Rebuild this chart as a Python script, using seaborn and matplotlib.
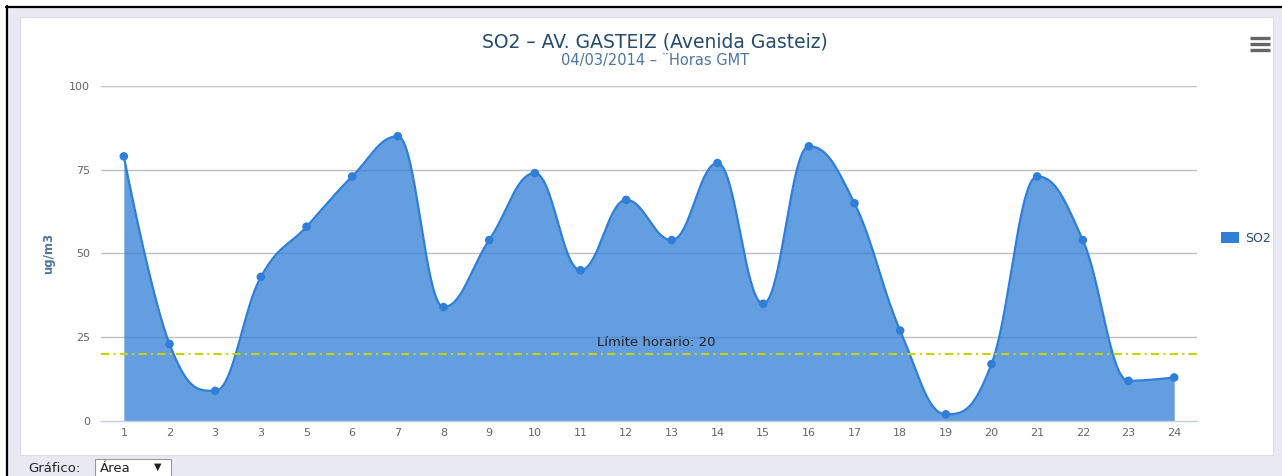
import numpy as np
import pandas as pd
import matplotlib
matplotlib.use("Agg")
import matplotlib.pyplot as plt
import seaborn as sns
from matplotlib.patches import Rectangle, Patch
from matplotlib.lines import Line2D

# ---------------- data ----------------
hour_labels = ["1", "2", "3", "3", "5", "6", "7", "8", "9", "10", "11", "12",
               "13", "14", "15", "16", "17", "18", "19", "20", "21", "22", "23", "24"]
so2_values = [79, 23, 9, 43, 58, 73, 85, 34, 54, 74, 45, 66,
              54, 77, 35, 82, 65, 27, 2, 17, 73, 54, 12, 13]
y_ticks = [0, 25, 50, 75, 100]
limit_value = 20
title_text = "SO2 – AV. GASTEIZ (Avenida Gasteiz)"
subtitle_text = "04/03/2014 – ¨Horas GMT"
series_name = "SO2"
y_title = "ug/m3"
limit_label = "Límite horario: 20"

# ---------------- style ----------------
sns.set_theme(style="white")
plt.rcParams["font.family"] = ["DejaVu Sans"]

W, H = 1282, 476
fig = plt.figure(figsize=(W / 100, H / 100), dpi=100)
fig.patch.set_facecolor("#ffffff")

def fx(px):
    return px / W

def fy(py):
    return 1 - py / H

# page background and panel
fig.add_artist(Rectangle((fx(8), 0), fx(W - 8), fy(8), transform=fig.transFigure,
                         facecolor="#e9e9f3", edgecolor="none", zorder=-10))
fig.add_artist(Rectangle((fx(20), fy(455)), fx(1273 - 20), (455 - 17) / H,
                         transform=fig.transFigure, facecolor="white",
                         edgecolor="#dcdce6", lw=0.8, zorder=-9))
# black frame edges (top and left)
fig.add_artist(Line2D([fx(6), 1], [fy(7), fy(7)], transform=fig.transFigure,
                      color="black", lw=1.6, zorder=-8))
fig.add_artist(Line2D([fx(7), fx(7)], [0, fy(6)], transform=fig.transFigure,
                      color="black", lw=1.6, zorder=-8))

# ---------------- axes ----------------
left, right, top, bottom = 101, 1197, 86, 421
ax = fig.add_axes([fx(left), fy(bottom), (right - left) / W, (bottom - top) / H])
ax.set_facecolor("none")

x = np.arange(len(so2_values), dtype=float)
y = np.array(so2_values, dtype=float)

# Highcharts-style spline control points
def spline_path(xs, ys, smoothing=1.5, n=40):
    denom = smoothing + 1
    nseg = len(xs) - 1
    rc = [(xs[i], ys[i]) for i in range(len(xs))]
    lc = [(xs[i], ys[i]) for i in range(len(xs))]
    for i in range(1, len(xs) - 1):
        px, py = xs[i], ys[i]
        lx, ly = xs[i - 1], ys[i - 1]
        nx, ny = xs[i + 1], ys[i + 1]
        lcx = (smoothing * px + lx) / denom
        lcy = (smoothing * py + ly) / denom
        rcx = (smoothing * px + nx) / denom
        rcy = (smoothing * py + ny) / denom
        corr = ((rcy - lcy) * (rcx - px)) / (rcx - lcx) + py - rcy
        lcy += corr
        rcy += corr
        if lcy > ly and lcy > py:
            lcy = max(ly, py); rcy = 2 * py - lcy
        elif lcy < ly and lcy < py:
            lcy = min(ly, py); rcy = 2 * py - lcy
        if rcy > ny and rcy > py:
            rcy = max(ny, py); lcy = 2 * py - rcy
        elif rcy < ny and rcy < py:
            rcy = min(ny, py); lcy = 2 * py - rcy
        lc[i] = (lcx, lcy)
        rc[i] = (rcx, rcy)
    t = np.linspace(0, 1, n)
    XX, YY = [], []
    for i in range(nseg):
        p0 = np.array([xs[i], ys[i]])
        p1 = np.array(rc[i])
        p2 = np.array(lc[i + 1])
        p3 = np.array([xs[i + 1], ys[i + 1]])
        pts = ((1 - t) ** 3)[:, None] * p0 + (3 * (1 - t) ** 2 * t)[:, None] * p1 \
            + (3 * (1 - t) * t ** 2)[:, None] * p2 + (t ** 3)[:, None] * p3
        if i > 0:
            pts = pts[1:]
        XX.append(pts[:, 0]); YY.append(pts[:, 1])
    return np.concatenate(XX), np.concatenate(YY)

sx, sy = spline_path(x, y)
line_color = "#2f7ed8"

ax.fill_between(sx, 0, sy, color=line_color, alpha=0.75, lw=0, zorder=2)
smooth_df = pd.DataFrame({"x": sx, "y": sy})
sns.lineplot(data=smooth_df, x="x", y="y", ax=ax, color=line_color, lw=1.6,
             zorder=3, sort=False, estimator=None)
pts_df = pd.DataFrame({"x": x, "y": y})
sns.scatterplot(data=pts_df, x="x", y="y", ax=ax, color=line_color, s=38,
                edgecolor="none", zorder=4, legend=False)

# grid lines
for v in y_ticks[1:]:
    ax.axhline(v, color="#c0c0c0", lw=1.0, zorder=1)

# plot line (limit)
ax.axhline(limit_value, color="#c8d400", lw=1.5, ls=(0, (4, 2, 1, 2)), zorder=5)
ax.text((len(x) - 1) / 2 + 0.15, limit_value + 1.6, limit_label, ha="center",
        va="bottom", fontsize=9.5, color="#222222", zorder=6)

ax.set_xlim(-0.5, len(x) - 0.5)
ax.set_ylim(0, 100)
ax.set_yticks(y_ticks)
ax.set_yticklabels([str(v) for v in y_ticks])
ax.set_xticks(x)
ax.set_xticklabels(hour_labels)
ax.set_xticks(np.arange(-0.5, len(x) + 0.5, 1), minor=True)
ax.tick_params(axis="x", which="major", length=0, pad=5, labelsize=8, labelcolor="#666666")
ax.tick_params(axis="x", which="minor", length=5, width=1, color="#c0d0e0", direction="out")
ax.tick_params(axis="y", length=0, pad=8, labelsize=8, labelcolor="#666666")
for s in ["top", "right", "left"]:
    ax.spines[s].set_visible(False)
ax.spines["bottom"].set_color("#c0d0e0")
ax.spines["bottom"].set_linewidth(1.0)
ax.set_xlabel("")
ax.set_ylabel(y_title, fontsize=8.5, fontweight="bold", color="#4d759e", labelpad=10)

# titles
fig.text(fx(655), fy(42), title_text, ha="center", va="center", fontsize=13.5, color="#274b6d")
fig.text(fx(655), fy(60), subtitle_text, ha="center", va="center", fontsize=10.5, color="#4d759e")

# legend
handle = Patch(facecolor=line_color, edgecolor="none", label=series_name)
fig.legend(handles=[handle], loc="center left", bbox_to_anchor=(fx(1210), fy(238)),
           frameon=False, fontsize=9, handlelength=1.4, handleheight=1.0,
           handletextpad=0.5, labelcolor="#274b6d")

# menu icon
for py in (38, 44, 50):
    fig.add_artist(Line2D([fx(1250), fx(1270)], [fy(py), fy(py)], transform=fig.transFigure,
                          color="#666666", lw=2.4, solid_capstyle="butt"))

# bottom controls
fig.text(fx(28), fy(468), "Gráfico:", ha="left", va="center", fontsize=9.5, color="#222222")
fig.add_artist(Rectangle((fx(95), fy(478)), fx(76), 19 / H, transform=fig.transFigure,
                         facecolor="white", edgecolor="#999999", lw=0.8))
fig.text(fx(100), fy(468), "Área", ha="left", va="center", fontsize=9.5, color="#222222")
fig.text(fx(158), fy(467), "▼", ha="center", va="center", fontsize=7, color="#222222")

fig.savefig("out.png", dpi=100)
